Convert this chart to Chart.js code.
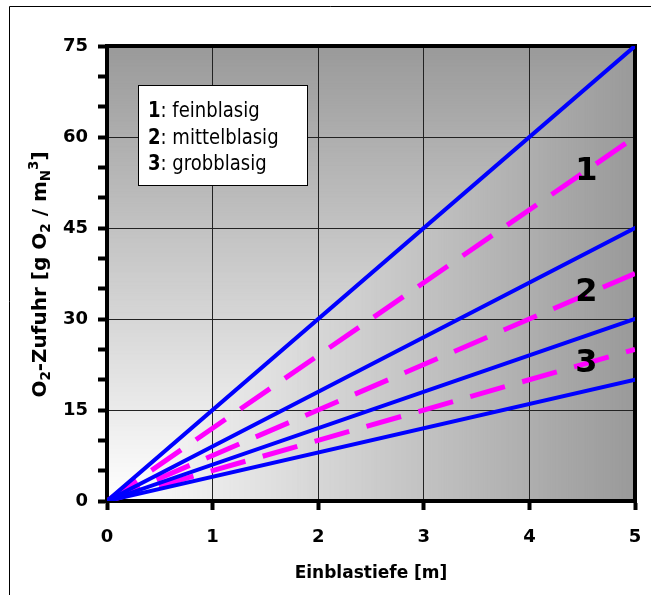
<!DOCTYPE html>
<html>
<head>
<meta charset="utf-8">
<script src="https://cdn.jsdelivr.net/npm/chart.js@4.4.1/dist/chart.umd.min.js"></script>
<style>
html,body{margin:0;padding:0;background:#fff;}
#wrap{width:651px;height:595px;position:relative;}
canvas{display:block;}
</style>
</head>
<body>
<div id="wrap"><canvas id="c" width="651" height="595"></canvas></div>
<script>
// ---- data ----
const depth = [0, 5];                 // Einblastiefe [m]
const fineUpper   = [0, 75];          // solid blue
const fineMean    = [0, 60];          // dashed magenta
const mediumUpper = [0, 45];          // solid blue
const mediumMean  = [0, 37.5];        // dashed magenta
const coarseUpper = [0, 30];          // solid blue
const coarseMean  = [0, 25];          // dashed magenta
const coarseLower = [0, 20];          // solid blue
const xTickValues = [0, 1, 2, 3, 4, 5];
const yTickValues = [0, 15, 30, 45, 60, 75];
const legendNumbers = ['1', '2', '3'];
const legendTexts = [': feinblasig', ': mittelblasig', ': grobblasig'];
const curveLabels = ['1', '2', '3'];
const curveLabelX = [4.54, 4.54, 4.54];
const curveLabelY = [54.4, 34.5, 22.8];

const BLUE = '#0000ff';
const MAGENTA = '#ff00ff';

function pts(vals) { return depth.map((d, i) => ({ x: d, y: vals[i] })); }
function solid(vals) {
  return { data: pts(vals), borderColor: BLUE, borderWidth: 4, showLine: true,
           pointRadius: 0, fill: false, tension: 0, borderCapStyle: 'round' };
}
function dashed(vals) {
  return { data: pts(vals), borderColor: MAGENTA, borderWidth: 5, showLine: true,
           pointRadius: 0, fill: false, tension: 0, borderDash: [36, 18], borderCapStyle: 'butt' };
}

const bgPlugin = {
  id: 'bg',
  beforeDraw(chart) {
    const { ctx, chartArea: a, width, height } = chart;
    ctx.save();
    ctx.fillStyle = '#fff';
    ctx.fillRect(0, 0, width, height);
    const w = a.right - a.left, h = a.bottom - a.top;
    const N = 300;
    for (let i = N; i >= 1; i--) {
      const t = i / N;
      const c = Math.round(255 - (255 - 154) * t);
      ctx.fillStyle = `rgb(${c},${c},${c})`;
      ctx.fillRect(a.left, a.bottom - t * h, t * w, t * h);
    }
    ctx.restore();
  },
  beforeDatasetsDraw(chart) {
    const { ctx, chartArea: a } = chart;
    ctx.save();
    ctx.strokeStyle = '#000';
    ctx.lineWidth = 4;
    ctx.strokeRect(a.left, a.top, a.right - a.left, a.bottom - a.top);
    ctx.restore();
  },
  afterDatasetsDraw(chart) {
    const { ctx, chartArea: a, scales } = chart;
    ctx.save();
    // legend box
    const bx = a.left + 31, by = a.top + 39, bw = 169, bh = 100;
    ctx.fillStyle = '#fff';
    ctx.fillRect(bx, by, bw, bh);
    ctx.strokeStyle = '#000';
    ctx.lineWidth = 1;
    ctx.strokeRect(bx + 0.5, by + 0.5, bw, bh);
    ctx.fillStyle = '#000';
    ctx.textBaseline = 'alphabetic';
    ctx.textAlign = 'left';
    for (let i = 0; i < legendNumbers.length; i++) {
      const ty = by + 32 + i * 26.5;
      ctx.save();
      ctx.translate(bx + 10, ty);
      ctx.scale(0.88, 1);
      ctx.font = 'bold 20.5px "DejaVu Sans"';
      ctx.fillText(legendNumbers[i], 0, 0);
      const w0 = ctx.measureText(legendNumbers[i]).width;
      ctx.font = '20.5px "DejaVu Sans"';
      ctx.fillText(legendTexts[i], w0, 0);
      ctx.restore();
    }
    // curve labels
    ctx.font = 'bold 32px "DejaVu Sans"';
    ctx.textAlign = 'center';
    ctx.textBaseline = 'middle';
    for (let i = 0; i < curveLabels.length; i++) {
      ctx.fillText(curveLabels[i], scales.x.getPixelForValue(curveLabelX[i]),
                   scales.y.getPixelForValue(curveLabelY[i]) + 1);
    }
    ctx.restore();
  },
  afterDraw(chart) {
    const { ctx, chartArea: a, width, height } = chart;
    ctx.save();
    // outer frame (top & left edges visible)
    ctx.strokeStyle = '#000';
    ctx.lineWidth = 1;
    ctx.beginPath();
    ctx.moveTo(9.5, height + 2);
    ctx.lineTo(9.5, 6.5);
    ctx.lineTo(width + 2, 6.5);
    ctx.stroke();
    // y-axis title with sub/superscripts
    const parts = [
      ['O', 0], ['2', 1], ['-Zufuhr [g O', 0], ['2', 1], [' / m', 0], ['N', 1], ['3', 2], [']', 0]
    ];
    const big = 'bold 20px "DejaVu Sans"', small = 'bold 13.5px "DejaVu Sans"';
    let total = 0;
    for (const [t, k] of parts) { ctx.font = k ? small : big; total += ctx.measureText(t).width; }
    const cy = 274.5;
    ctx.translate(46, cy);
    ctx.rotate(-Math.PI / 2);
    ctx.fillStyle = '#000';
    ctx.textAlign = 'left';
    ctx.textBaseline = 'alphabetic';
    let x = -total / 2;
    for (let i = 0; i < parts.length; i++) {
      const [t, k] = parts[i];
      ctx.font = k ? small : big;
      const dy = k === 1 ? 4 : (k === 2 ? -8 : 0);
      ctx.fillText(t, x, dy);
      x += ctx.measureText(t).width;
    }
    ctx.restore();
  }
};

const tickFont = { family: 'DejaVu Sans', size: 18, weight: 'bold' };

new Chart(document.getElementById('c'), {
  type: 'scatter',
  data: {
    datasets: [
      solid(fineUpper), solid(mediumUpper), solid(coarseUpper), solid(coarseLower),
      dashed(fineMean), dashed(mediumMean), dashed(coarseMean)
    ]
  },
  options: {
    responsive: false,
    animation: false,
    devicePixelRatio: 1,
    layout: { autoPadding: false, padding: { left: 0, top: 46, right: 16, bottom: 0 } },
    plugins: { legend: { display: false }, tooltip: { enabled: false } },
    scales: {
      x: {
        type: 'linear', min: 0, max: 5,
        afterFit(s) { s.height = 94; s.paddingLeft = 0; s.paddingRight = 0; },
        afterBuildTicks(s) { s.ticks = xTickValues.map(v => ({ value: v })); },
        ticks: { font: tickFont, color: '#000', padding: 17, maxRotation: 0, autoSkip: false },
        grid: { color: '#222', lineWidth: 1, tickColor: '#000', tickWidth: 4, tickLength: 9 },
        border: { display: true, color: '#000', width: 4 },
        title: { display: true, text: 'Einblastiefe [m]', color: '#000',
                 font: { family: 'DejaVu Sans', size: 17, weight: 'bold' },
                 padding: { top: 0, bottom: 11 } }
      },
      y: {
        type: 'linear', min: 0, max: 75,
        afterFit(s) { s.width = 107; s.paddingTop = 0; s.paddingBottom = 0; },
        ticks: {
          stepSize: 5, font: tickFont, color: '#000', padding: 10, autoSkip: false,
          callback: v => yTickValues.includes(v) ? String(v) : ''
        },
        grid: {
          color: c => (c.tick && yTickValues.includes(c.tick.value)) ? '#222' : 'rgba(0,0,0,0)',
          lineWidth: 1, tickColor: '#000', tickWidth: 4, tickLength: 9
        },
        border: { display: true, color: '#000', width: 4 }
      }
    }
  },
  plugins: [bgPlugin]
});
</script>
</body>
</html>
